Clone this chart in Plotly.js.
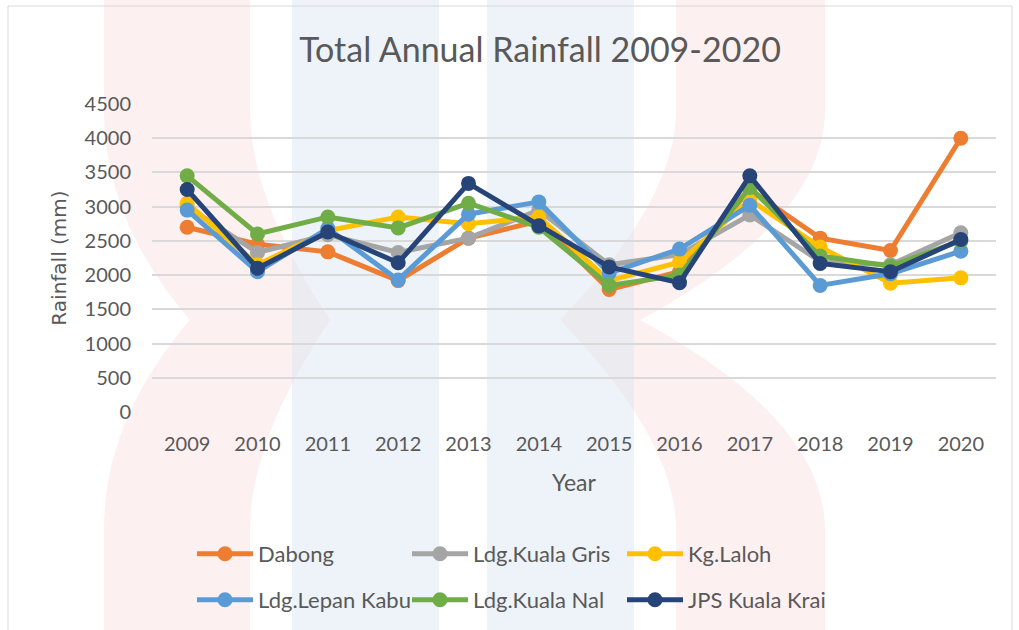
<!DOCTYPE html>
<html>
<head>
<meta charset="utf-8">
<script src="https://cdn.plot.ly/plotly-3.0.1.min.js"></script>
<style>
  html, body { margin: 0; padding: 0; background: #ffffff; }
  #chart { width: 1019px; height: 630px; }
</style>
</head>
<body>
<div id="chart"></div>
<script>
// Annual rainfall totals (mm) per station, 2009-2020
const years = ['2009','2010','2011','2012','2013','2014','2015','2016','2017','2018','2019','2020'];

const dabong       = [2700, 2450, 2340, 1920, 2540, 2790, 1790, 2050, 3250, 2540, 2360, 4000];
const kualaGris    = [3000, 2330, 2590, 2330, 2540, 2950, 2150, 2300, 2880, 2200, 2150, 2620];
const kgLaloh      = [3050, 2150, 2650, 2850, 2750, 2850, 1920, 2190, 3100, 2410, 1880, 1960];
const lepanKabu    = [2950, 2050, 2680, 1930, 2890, 3070, 2030, 2380, 3020, 1850, 2020, 2350];
const kualaNal     = [3450, 2600, 2850, 2690, 3050, 2700, 1850, 2000, 3280, 2280, 2130, 2500];
const jpsKualaKrai = [3250, 2100, 2630, 2180, 3340, 2720, 2120, 1890, 3450, 2170, 2050, 2520];

const stationNames = ['Dabong', 'Ldg.Kuala Gris', 'Kg.Laloh', 'Ldg.Lepan Kabu', 'Ldg.Kuala Nal', 'JPS Kuala Krai'];
const stationValues = [dabong, kualaGris, kgLaloh, lepanKabu, kualaNal, jpsKualaKrai];
const stationColors = ['#ED7D31', '#A5A5A5', '#FFC000', '#5B9BD5', '#70AD47', '#264478'];

const W = 1019, H = 630;
const M = { l: 152, r: 23, t: 104, b: 218 };
const PW = W - M.l - M.r, PH = H - M.t - M.b;

// pixel position -> paper coordinates
function px(x) { return (x - M.l) / PW; }
function py(y) { return (H - M.b - y) / PH; }
function pathOf(pts) {
  return pts.map(function (p) {
    if (typeof p === 'string') return p;
    return px(p[0]).toFixed(4) + ',' + py(p[1]).toFixed(4);
  }).join(' ');
}

const textColor = '#595959';
const font = 'Lato, Open Sans, sans-serif';
const axisTitleFont = 'DejaVu Sans, sans-serif';

const traces = stationNames.map(function (name, i) {
  return {
    type: 'scatter',
    mode: 'lines+markers',
    name: name,
    x: years,
    y: stationValues[i],
    line: { color: stationColors[i], width: 5 },
    marker: { color: stationColors[i], size: 15 },
    legend: i < 3 ? 'legend' : 'legend2',
    hoverinfo: 'x+y+name'
  };
});

// faint background emblem: two soft chevrons and two vertical bands
const pink = 'rgba(250, 222, 222, 0.45)';
const blue = 'rgba(214, 228, 240, 0.45)';
const shapes = [
  { type: 'path', xref: 'paper', yref: 'paper', layer: 'below', line: { width: 0 }, fillcolor: pink,
    path: 'M ' + pathOf([[104, 0], 'L', [250, 0], 'L', [250, 110], 'Q', [250, 200], [330, 320], 'Q', [250, 440], [250, 530], 'L', [250, 630], 'L', [104, 630], 'L', [104, 530], 'Q', [104, 420], [190, 320], 'Q', [104, 220], [104, 110]]) + ' Z' },
  { type: 'path', xref: 'paper', yref: 'paper', layer: 'below', line: { width: 0 }, fillcolor: pink,
    path: 'M ' + pathOf([[676, 0], 'L', [825, 0], 'L', [825, 110], 'Q', [825, 220], [640, 320], 'Q', [825, 420], [825, 530], 'L', [825, 630], 'L', [676, 630], 'L', [676, 530], 'Q', [676, 440], [560, 320], 'Q', [676, 200], [676, 110]]) + ' Z' },
  { type: 'rect', xref: 'paper', yref: 'paper', layer: 'below', line: { width: 0 }, fillcolor: blue,
    x0: px(292), x1: px(439), y0: py(0), y1: py(630) },
  { type: 'rect', xref: 'paper', yref: 'paper', layer: 'below', line: { width: 0 }, fillcolor: blue,
    x0: px(487), x1: px(634), y0: py(0), y1: py(630) },
  // chart frame
  { type: 'rect', xref: 'paper', yref: 'paper', layer: 'above', line: { color: '#d9d9d9', width: 1 }, fillcolor: 'rgba(0,0,0,0)',
    x0: px(8), x1: px(1012), y0: py(6), y1: py(640) }
];

function legendRow(yPix) {
  return {
    orientation: 'h',
    xref: 'container', yref: 'container',
    x: 192 / W, xanchor: 'left',
    y: 1 - yPix / H, yanchor: 'middle',
    entrywidth: 144, entrywidthmode: 'pixels',
    itemwidth: 56,
    font: { family: font, size: 22, color: textColor },
    bgcolor: 'rgba(0,0,0,0)'
  };
}

const layout = {
  width: W,
  height: H,
  margin: Object.assign({ autoexpand: false }, M),
  paper_bgcolor: '#ffffff',
  plot_bgcolor: 'rgba(0,0,0,0)',
  font: { family: font, color: textColor, size: 20 },
  title: {
    text: 'Total Annual Rainfall 2009-2020',
    font: { family: font, size: 34, color: textColor },
    xref: 'container', x: 540 / W, xanchor: 'center',
    yref: 'container', y: 1 - 50 / H, yanchor: 'middle'
  },
  xaxis: {
    type: 'category',
    range: [-0.5, 11.5],
    showgrid: false,
    zeroline: false,
    showline: false,
    ticks: '',
    automargin: false,
    ticklabelstandoff: 18,
    tickfont: { family: font, size: 20, color: textColor },
    title: { text: 'Year', font: { family: font, size: 23, color: textColor }, standoff: 20 },
    fixedrange: true
  },
  yaxis: {
    range: [0, 4500],
    dtick: 500,
    tick0: 0,
    showgrid: true,
    gridcolor: '#d9d9d9',
    gridwidth: 2,
    zeroline: false,
    showline: false,
    ticks: '',
    automargin: false,
    ticklabelstandoff: 20,
    tickfont: { family: font, size: 20, color: textColor },
    title: { text: 'Rainfall (mm)', font: { family: axisTitleFont, size: 20, color: textColor }, standoff: 12 },
    fixedrange: true
  },
  legend: legendRow(554),
  legend2: legendRow(600),
  shapes: shapes,
  showlegend: true,
  hovermode: 'closest'
};

Plotly.newPlot('chart', traces, layout, { displayModeBar: false });
</script>
</body>
</html>
